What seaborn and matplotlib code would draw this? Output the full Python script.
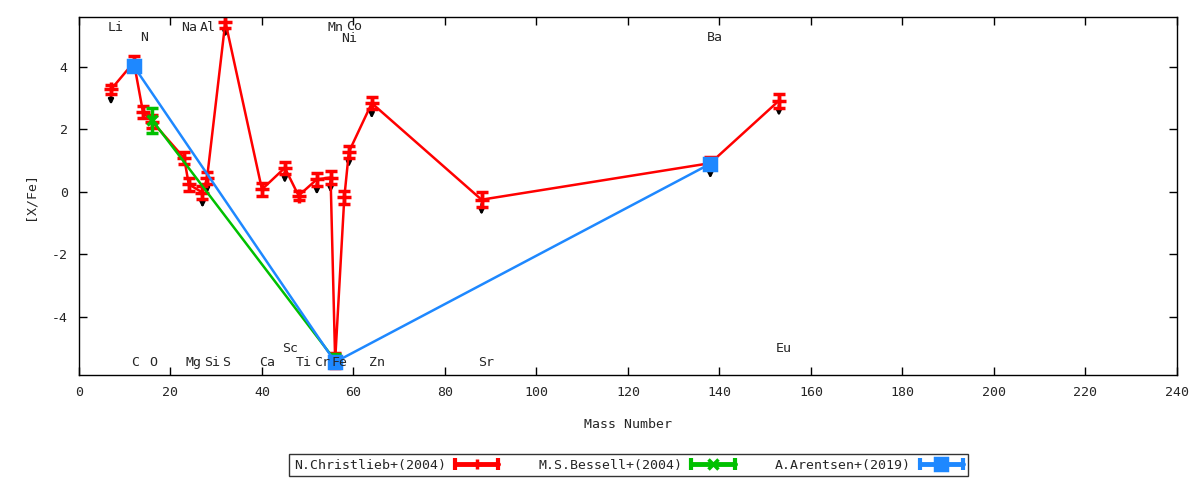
"""Abundance pattern [X/Fe] vs mass number."""
import matplotlib
matplotlib.use("Agg")
import matplotlib.pyplot as plt
import seaborn as sns
from matplotlib.legend_handler import HandlerBase
from matplotlib.lines import Line2D

# Christlieb+(2004)
red_elem = ["Li", "C", "N", "O", "Na", "Mg", "Al", "Si", "S", "Ca", "Sc",
            "Ti", "Cr", "Mn", "Fe", "Ni", "Co", "Zn", "Sr", "Ba", "Eu"]
red_mass = [7, 12, 14, 16, 23, 24, 27, 28, 32, 40, 45,
            48, 52, 55, 56, 58, 59, 64, 88, 138, 153]
red_val = [3.28, 4.15, 2.55, 2.25, 1.08, 0.24, -0.02, 0.44, 5.45, 0.08, 0.77,
           -0.12, 0.40, 0.46, -5.40, -0.18, 1.28, 2.84, -0.25, 0.92, 2.92]
red_err = [0.15, 0.2, 0.2, 0.2, 0.2, 0.2, 0.2, 0.2, 0.2, 0.2, 0.2,
           0.15, 0.2, 0.2, 0.25, 0.2, 0.2, 0.2, 0.25, 0.2, 0.22]
red_limit = [True, False, False, False, False, False, True, True, True, False, True,
             False, True, True, False, False, True, True, True, True, True]

# Bessell+(2004)
green_mass = [16, 56]
green_val = [2.30, -5.40]
green_err = [0.4, 0.2]

# Arentsen+(2019)
blue_mass = [12, 56, 138]
blue_val = [4.02, -5.45, 0.90]
blue_err = [0.1, 0.1, 0.1]

# element label rows (y in data units)
lab_elem = ["Li", "Na", "Al", "Mn", "Co", "N", "Ni", "Ba",
            "C", "O", "Mg", "Si", "S", "Ca", "Ti", "Cr", "Fe", "Zn", "Sr",
            "Sc", "Eu"]
lab_mass = [7, 23, 27, 55, 59, 14, 58, 138,
            12, 16, 24, 28, 32, 40, 48, 52, 56, 64, 88,
            45, 153]
lab_y = [5.25, 5.25, 5.25, 5.25, 5.28, 4.95, 4.9, 4.95,
         -5.45, -5.45, -5.45, -5.45, -5.45, -5.45, -5.45, -5.45, -5.45, -5.45, -5.45,
         -5.0, -5.0]


class ErrSample:
    def __init__(self, color, marker, ms):
        self.color, self.marker, self.ms = color, marker, ms


class HandlerErr(HandlerBase):
    """gnuplot-like horizontal errorbar key sample."""
    def create_artists(self, legend, orig, xdescent, ydescent, width, height,
                       fontsize, trans):
        y = 0.5 * height - ydescent
        x0, x1 = -xdescent, width - xdescent
        bar = Line2D([x0, x1], [y, y], color=orig.color, lw=3.5, transform=trans)
        caps = Line2D([x0, x1], [y, y], ls="none", marker="|", ms=9, mew=3,
                      color=orig.color, transform=trans)
        mid = Line2D([(x0 + x1) / 2], [y], ls="none", marker=orig.marker,
                     ms=orig.ms, mew=2.5, color=orig.color, transform=trans)
        return [bar, caps, mid]


sns.set_style("ticks")
plt.rcParams["font.family"] = ["DejaVu Sans Mono", "DejaVu Sans"]
plt.rcParams["font.size"] = 9.5
plt.rcParams["axes.unicode_minus"] = False

fig = plt.figure(figsize=(12, 4.8), dpi=100)
ax = fig.add_axes([0.0658, 0.219, 0.915, 0.7456])

RED, GREEN, BLUE = "#ff0000", "#00c000", "#1e88ff"

# upper-limit arrows
for m, v, lim in zip(red_mass, red_val, red_limit):
    if lim:
        ax.annotate("", xy=(m, v - 0.58), xytext=(m, v - 0.05),
                    arrowprops=dict(arrowstyle="-|>", color="black", lw=1.8,
                                    mutation_scale=7), zorder=1)

handles = []
for mass, val, err, col, mk, ms, lab, z in [
    (red_mass, red_val, red_err, RED, "+", 10, "N.Christlieb+(2004)", 2),
    (green_mass, green_val, green_err, GREEN, "x", 7, "M.S.Bessell+(2004)", 3),
    (blue_mass, blue_val, blue_err, BLUE, "s", 8, "A.Arentsen+(2019)", 4),
]:
    ax.errorbar(mass, val, yerr=err, fmt="none", ecolor=col, elinewidth=2.5,
                capsize=4, capthick=2.5, zorder=z)
    sns.lineplot(x=mass, y=val, ax=ax, sort=False, estimator=None, color=col,
                 lw=1.8, marker=mk, markersize=ms, markeredgewidth=2.5,
                 markeredgecolor=col, zorder=z)
    handles.append((ErrSample(col, mk, 8 if mk == "s" else 7), lab))

for e, m, y in zip(lab_elem, lab_mass, lab_y):
    ax.text(m - 0.7, y, e, ha="left", va="center", fontsize=9.5, zorder=5)

ax.set_xlim(0, 240)
ax.set_ylim(-5.86, 5.6)
ax.set_xticks(range(0, 241, 20))
ax.set_yticks([-4, -2, 0, 2, 4])
ax.tick_params(direction="in", length=6, width=1, top=True, right=True,
               labelsize=9.5, pad=8, color="black")
for s in ax.spines.values():
    s.set_color("black")
    s.set_linewidth(1)
ax.set_xlabel("Mass Number", fontsize=9.5, labelpad=14)
ax.set_ylabel("[X/Fe]", fontsize=9.5, labelpad=11)

leg = fig.legend([h for h, _ in handles], [l for _, l in handles],
                 handler_map={ErrSample: HandlerErr()},
                 loc="center", bbox_to_anchor=(0.5237, 0.031), ncol=3,
                 markerfirst=False, fontsize=9.5, handlelength=3.3,
                 columnspacing=3.0, frameon=True, fancybox=False,
                 borderpad=0.35, handletextpad=0.7)
leg.get_frame().set_edgecolor("black")
leg.get_frame().set_linewidth(1)

fig.savefig("out.png", dpi=100)
